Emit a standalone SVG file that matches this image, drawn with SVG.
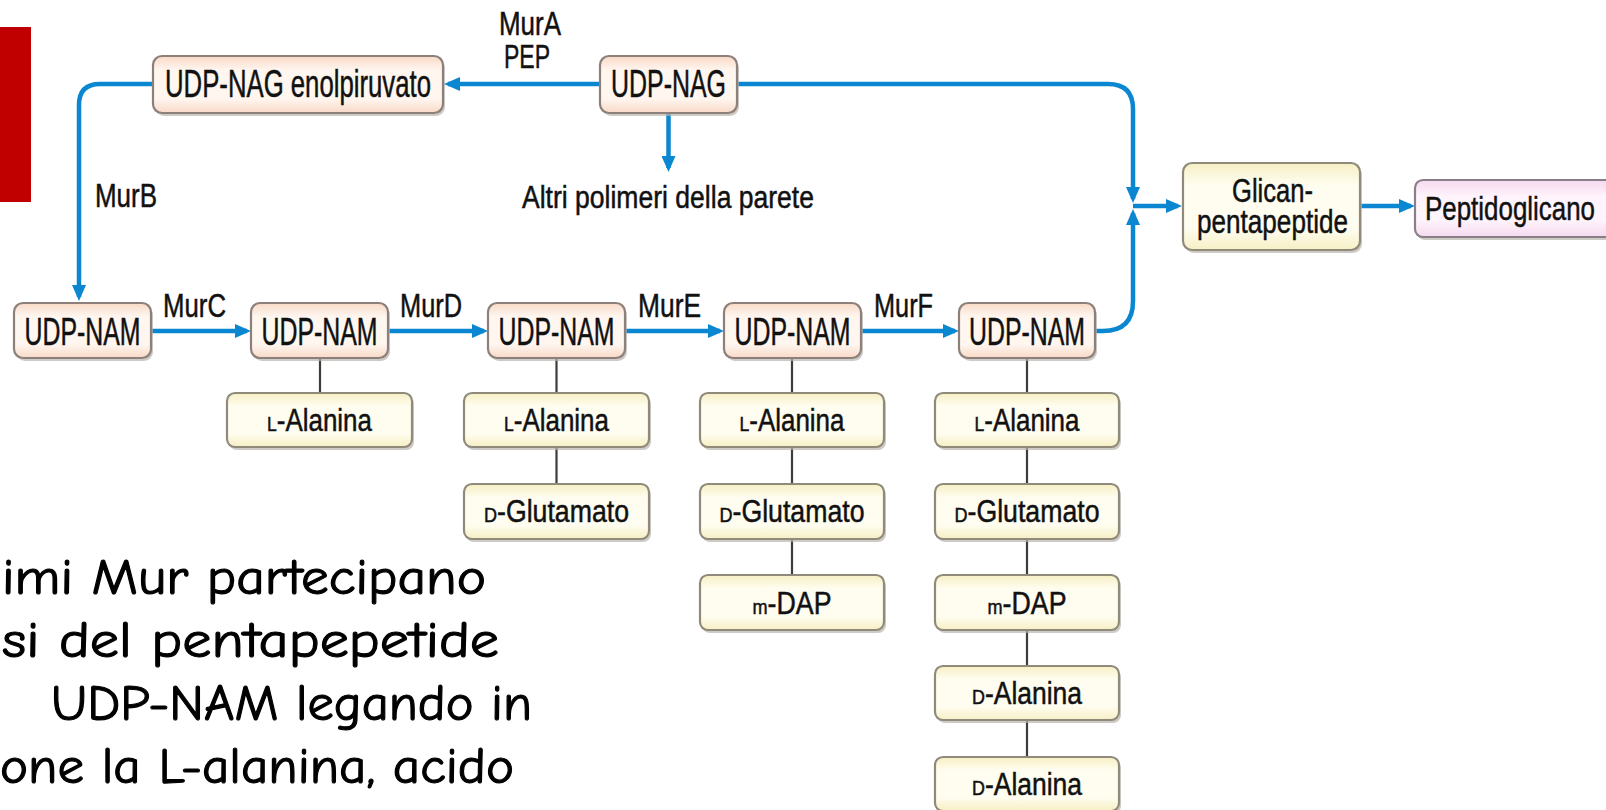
<svg xmlns="http://www.w3.org/2000/svg" width="1606" height="810" viewBox="0 0 1606 810">
<defs>
<linearGradient id="gPeach" x1="0" y1="0" x2="0" y2="1">
<stop offset="0" stop-color="#f8d9c6"/><stop offset="0.25" stop-color="#fff6f0"/><stop offset="0.75" stop-color="#fff6f0"/><stop offset="1" stop-color="#f8d9c6"/>
</linearGradient>
<linearGradient id="gYellow" x1="0" y1="0" x2="0" y2="1">
<stop offset="0" stop-color="#f6efc4"/><stop offset="0.25" stop-color="#fffdf0"/><stop offset="0.75" stop-color="#fffdf0"/><stop offset="1" stop-color="#f6efc4"/>
</linearGradient>
<linearGradient id="gPink" x1="0" y1="0" x2="0" y2="1">
<stop offset="0" stop-color="#f5d9ee"/><stop offset="0.3" stop-color="#fff4fc"/><stop offset="0.7" stop-color="#fff4fc"/><stop offset="1" stop-color="#f5d9ee"/>
</linearGradient>
<marker id="arr" markerUnits="userSpaceOnUse" markerWidth="16" markerHeight="14" refX="12" refY="7" orient="auto">
<path d="M0,0 L16,7 L0,14 z" fill="#0b87d1"/>
</marker>
<style>
.shadow{fill:#b9b4ae;opacity:0.7}
.peach{fill:url(#gPeach);stroke:#8d807a;stroke-width:2.2}
.yel{fill:url(#gYellow);stroke:#8f8a7a;stroke-width:2.2}
.pink{fill:url(#gPink);stroke:#8a7f88;stroke-width:2.2}
.t{font-family:"Liberation Sans",Arial,sans-serif;fill:#111;stroke:#111;stroke-width:0.5}
.big{font-size:38px}
.mid{font-size:34px}
.sub{font-size:31px}
.sc{font-size:21px}
.blue{fill:none;stroke:#0b87d1;stroke-width:4.5}
.gray{fill:none;stroke:#3f3d3a;stroke-width:2.2}
.note{font-family:"Comic Sans MS","Comic Neue","DejaVu Sans",sans-serif;font-size:50px;fill:#000;stroke:#000;stroke-width:1.1}
</style>
</defs>
<rect width="1606" height="810" fill="#ffffff"/>
<rect id="redbar" x="0" y="27" width="31" height="175" fill="#c00000"/>

<g id="connectors">
<path class="blue" d="M600,84 H448" marker-end="url(#arr)"/>
<path class="blue" d="M668.5,113 V168" marker-end="url(#arr)"/>
<path class="blue" d="M153,84 H100 Q79,84 79,105 V297" marker-end="url(#arr)"/>
<path class="blue" d="M737,84 H1108 Q1133,84 1133,109 V199" marker-end="url(#arr)"/>
<path class="blue" d="M1095,331 H1103 Q1133,331 1133,301 V213" marker-end="url(#arr)"/>
<path class="blue" d="M1133,206 H1178" marker-end="url(#arr)"/>
<path class="blue" d="M1360,206 H1411" marker-end="url(#arr)"/>
<path class="blue" d="M152,331 H247" marker-end="url(#arr)"/>
<path class="blue" d="M388,331 H484" marker-end="url(#arr)"/>
<path class="blue" d="M625,331 H720" marker-end="url(#arr)"/>
<path class="blue" d="M861,331 H955" marker-end="url(#arr)"/>
<path class="gray" d="M320,358 V393"/>
<path class="gray" d="M556.5,358 V393 M556.5,448 V484"/>
<path class="gray" d="M792,358 V393 M792,448 V484 M792,539 V575"/>
<path class="gray" d="M1027,358 V393 M1027,448 V484 M1027,539 V575 M1027,630 V666 M1027,721 V757"/>
</g>

<g id="labels">
<text class="t mid" x="530" y="35" text-anchor="middle" textLength="62" lengthAdjust="spacingAndGlyphs">MurA</text>
<text class="t mid" x="527" y="68" text-anchor="middle" textLength="46" lengthAdjust="spacingAndGlyphs">PEP</text>
<text class="t mid" x="95" y="207" textLength="62" lengthAdjust="spacingAndGlyphs">MurB</text>
<text class="t mid" x="163" y="317" textLength="63" lengthAdjust="spacingAndGlyphs">MurC</text>
<text class="t mid" x="400" y="317" textLength="62" lengthAdjust="spacingAndGlyphs">MurD</text>
<text class="t mid" x="638" y="317" textLength="63" lengthAdjust="spacingAndGlyphs">MurE</text>
<text class="t mid" x="874" y="317" textLength="59" lengthAdjust="spacingAndGlyphs">MurF</text>
<text class="t sub" x="522" y="208" textLength="292" lengthAdjust="spacingAndGlyphs">Altri polimeri della parete</text>
</g>

<g id="n-enol">
<rect class="shadow" x="155" y="59" width="290" height="57" rx="9"/>
<rect class="peach" x="153" y="56" width="290" height="57" rx="9"/>
<text class="t big" x="298" y="97" text-anchor="middle" textLength="266" lengthAdjust="spacingAndGlyphs">UDP-NAG enolpiruvato</text>
</g>
<g id="n-nag">
<rect class="shadow" x="602" y="59" width="137" height="57" rx="9"/>
<rect class="peach" x="600" y="56" width="137" height="57" rx="9"/>
<text class="t big" x="668.5" y="97" text-anchor="middle" textLength="115" lengthAdjust="spacingAndGlyphs">UDP-NAG</text>
</g>

<g id="n-nam1">
<rect class="shadow" x="16" y="306" width="137" height="55" rx="9"/>
<rect class="peach" x="14" y="303" width="137" height="55" rx="9"/>
<text class="t big" x="82.5" y="345" text-anchor="middle" textLength="116" lengthAdjust="spacingAndGlyphs">UDP-NAM</text>
</g>
<g id="n-nam2">
<rect class="shadow" x="253" y="306" width="137" height="55" rx="9"/>
<rect class="peach" x="251" y="303" width="137" height="55" rx="9"/>
<text class="t big" x="319.5" y="345" text-anchor="middle" textLength="116" lengthAdjust="spacingAndGlyphs">UDP-NAM</text>
</g>
<g id="n-nam3">
<rect class="shadow" x="490" y="306" width="137" height="55" rx="9"/>
<rect class="peach" x="488" y="303" width="137" height="55" rx="9"/>
<text class="t big" x="556.5" y="345" text-anchor="middle" textLength="116" lengthAdjust="spacingAndGlyphs">UDP-NAM</text>
</g>
<g id="n-nam4">
<rect class="shadow" x="726" y="306" width="137" height="55" rx="9"/>
<rect class="peach" x="724" y="303" width="137" height="55" rx="9"/>
<text class="t big" x="792.5" y="345" text-anchor="middle" textLength="116" lengthAdjust="spacingAndGlyphs">UDP-NAM</text>
</g>
<g id="n-nam5">
<rect class="shadow" x="961" y="306" width="136" height="55" rx="9"/>
<rect class="peach" x="959" y="303" width="136" height="55" rx="9"/>
<text class="t big" x="1027" y="345" text-anchor="middle" textLength="116" lengthAdjust="spacingAndGlyphs">UDP-NAM</text>
</g>

<g id="n-glican">
<rect class="shadow" x="1185" y="166" width="177" height="87" rx="9"/>
<rect class="yel" x="1183" y="163" width="177" height="87" rx="9"/>
<text class="t mid" x="1272.5" y="202" text-anchor="middle" textLength="81" lengthAdjust="spacingAndGlyphs">Glican-</text>
<text class="t mid" x="1272.5" y="233" text-anchor="middle" textLength="151" lengthAdjust="spacingAndGlyphs">pentapeptide</text>
</g>
<g id="n-peptido">
<rect class="shadow" x="1417" y="183" width="200" height="57" rx="8"/>
<rect class="pink" x="1415" y="180" width="200" height="57" rx="8"/>
<text class="t mid" x="1425" y="220" textLength="170" lengthAdjust="spacingAndGlyphs">Peptidoglicano</text>
</g>

<g id="c2-lala">
<rect class="shadow" x="229" y="396" width="185" height="54" rx="8"/>
<rect class="yel" x="227" y="393" width="185" height="54" rx="8"/>
<text class="t sub" x="319.5" y="431" text-anchor="middle" textLength="105" lengthAdjust="spacingAndGlyphs"><tspan class="sc">L</tspan>-Alanina</text>
</g>
<g id="c3-lala">
<rect class="shadow" x="466" y="396" width="185" height="54" rx="8"/>
<rect class="yel" x="464" y="393" width="185" height="54" rx="8"/>
<text class="t sub" x="556.5" y="431" text-anchor="middle" textLength="105" lengthAdjust="spacingAndGlyphs"><tspan class="sc">L</tspan>-Alanina</text>
</g>
<g id="c3-dglu">
<rect class="shadow" x="466" y="487" width="185" height="55" rx="8"/>
<rect class="yel" x="464" y="484" width="185" height="55" rx="8"/>
<text class="t sub" x="556.5" y="522" text-anchor="middle" textLength="145" lengthAdjust="spacingAndGlyphs"><tspan class="sc">D</tspan>-Glutamato</text>
</g>
<g id="c4-lala">
<rect class="shadow" x="702" y="396" width="184" height="54" rx="8"/>
<rect class="yel" x="700" y="393" width="184" height="54" rx="8"/>
<text class="t sub" x="792" y="431" text-anchor="middle" textLength="105" lengthAdjust="spacingAndGlyphs"><tspan class="sc">L</tspan>-Alanina</text>
</g>
<g id="c4-dglu">
<rect class="shadow" x="702" y="487" width="184" height="55" rx="8"/>
<rect class="yel" x="700" y="484" width="184" height="55" rx="8"/>
<text class="t sub" x="792" y="522" text-anchor="middle" textLength="145" lengthAdjust="spacingAndGlyphs"><tspan class="sc">D</tspan>-Glutamato</text>
</g>
<g id="c4-mdap">
<rect class="shadow" x="702" y="578" width="184" height="55" rx="8"/>
<rect class="yel" x="700" y="575" width="184" height="55" rx="8"/>
<text class="t sub" x="792" y="614" text-anchor="middle" textLength="79" lengthAdjust="spacingAndGlyphs"><tspan class="sc">m</tspan>-DAP</text>
</g>
<g id="c5-lala">
<rect class="shadow" x="937" y="396" width="184" height="54" rx="8"/>
<rect class="yel" x="935" y="393" width="184" height="54" rx="8"/>
<text class="t sub" x="1027" y="431" text-anchor="middle" textLength="105" lengthAdjust="spacingAndGlyphs"><tspan class="sc">L</tspan>-Alanina</text>
</g>
<g id="c5-dglu">
<rect class="shadow" x="937" y="487" width="184" height="55" rx="8"/>
<rect class="yel" x="935" y="484" width="184" height="55" rx="8"/>
<text class="t sub" x="1027" y="522" text-anchor="middle" textLength="145" lengthAdjust="spacingAndGlyphs"><tspan class="sc">D</tspan>-Glutamato</text>
</g>
<g id="c5-mdap">
<rect class="shadow" x="937" y="578" width="184" height="55" rx="8"/>
<rect class="yel" x="935" y="575" width="184" height="55" rx="8"/>
<text class="t sub" x="1027" y="614" text-anchor="middle" textLength="79" lengthAdjust="spacingAndGlyphs"><tspan class="sc">m</tspan>-DAP</text>
</g>
<g id="c5-dala1">
<rect class="shadow" x="937" y="669" width="184" height="54" rx="8"/>
<rect class="yel" x="935" y="666" width="184" height="54" rx="8"/>
<text class="t sub" x="1027" y="704" text-anchor="middle" textLength="110" lengthAdjust="spacingAndGlyphs"><tspan class="sc">D</tspan>-Alanina</text>
</g>
<g id="c5-dala2">
<rect class="shadow" x="937" y="760" width="184" height="54" rx="8"/>
<rect class="yel" x="935" y="757" width="184" height="54" rx="8"/>
<text class="t sub" x="1027" y="795" text-anchor="middle" textLength="110" lengthAdjust="spacingAndGlyphs"><tspan class="sc">D</tspan>-Alanina</text>
</g>

<g id="note">
<text class="note" x="2" y="594" textLength="484" lengthAdjust="spacingAndGlyphs">imi Mur partecipano</text>
<text class="note" x="2" y="657" textLength="497" lengthAdjust="spacingAndGlyphs">si del pentapepetide</text>
<text class="note" x="51" y="720" textLength="481" lengthAdjust="spacingAndGlyphs">UDP-NAM legando in</text>
<text class="note" x="0" y="783" textLength="514" lengthAdjust="spacingAndGlyphs">one la L-alanina, acido</text>
</g>
</svg>
